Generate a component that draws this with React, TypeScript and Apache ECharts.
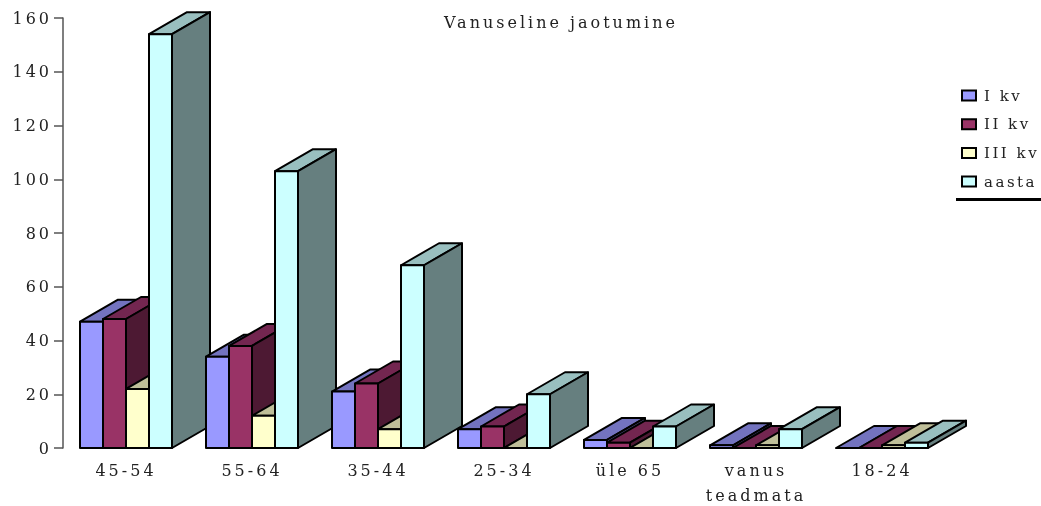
import React, { useEffect, useRef } from "react";
import * as echarts from "echarts";

const categories = ["45-54", "55-64", "35-44", "25-34", "üle 65", "vanus\nteadmata", "18-24"];
const seriesNames = ["I kv", "II kv", "III kv", "aasta"];
const q1 = [47, 34, 21, 7, 3, 1, 0];
const q2 = [48, 38, 24, 8, 2, 0, 0];
const q3 = [22, 12, 7, 0, 0, 1, 1];
const year = [154, 103, 68, 20, 8, 7, 2];
const seriesValues = [q1, q2, q3, year];
const fronts = ["#9999FF", "#993366", "#FFFFCC", "#CCFFFF"];
const tops = ["#7373BF", "#732650", "#BFBF99", "#99BFBF"];
const sides = ["#5C5C99", "#4D1933", "#999973", "#667F7F"];

const title = "Vanuseline jaotumine";
const DX = 38;
const DY = 22;
const FONT = "DejaVu Serif";

function make3D(q: number) {
  return (params: any, api: any) => {
    const cat = api.value(0);
    const [cx, y] = api.coord([cat, api.value(1)]);
    const [, y0] = api.coord([cat, 0]);
    const band = api.size([1, 0])[0];
    const w = (band * 92) / 126 / 4;
    const x = cx + (q - 2) * w;
    const z2 = cat * 10 + q;
    const stroke = { stroke: "#000", lineWidth: 2, lineJoin: "round" };
    const children: any[] = [
      {
        type: "polygon",
        z2,
        shape: { points: [[x, y], [x + w, y], [x + w + DX, y - DY], [x + DX, y - DY]] },
        style: { fill: tops[q], ...stroke },
      },
    ];
    if (y0 - y > 0.01) {
      children.push(
        {
          type: "polygon",
          z2,
          shape: { points: [[x + w, y], [x + w + DX, y - DY], [x + w + DX, y0 - DY], [x + w, y0]] },
          style: { fill: sides[q], ...stroke },
        },
        {
          type: "rect",
          z2,
          shape: { x, y, width: w, height: y0 - y },
          style: { fill: fronts[q], ...stroke },
        }
      );
    }
    return { type: "group", children };
  };
}

export default function App() {
  const ref = useRef<HTMLDivElement>(null);
  useEffect(() => {
    const chart = echarts.init(ref.current!, null, { renderer: "svg" });
    const textStyle = { fontFamily: FONT, fontSize: 16, color: "#222" };
    chart.setOption({
      animation: false,
      title: {
        text: title,
        left: 444,
        top: 14,
        padding: 0,
        textStyle: { ...textStyle, fontWeight: "normal" },
      },
      legend: {
        orient: "vertical",
        left: 961,
        top: 88,
        padding: 0,
        icon: "rect",
        itemWidth: 14,
        itemHeight: 10,
        itemGap: 13.7,
        data: seriesNames,
        selectedMode: false,
        itemStyle: { borderColor: "#000", borderWidth: 2 },
        textStyle: { ...textStyle, fontSize: 15, padding: [0, 0, 0, 3] },
      },
      grid: { left: 63, top: 18, width: 882, height: 430, outerBoundsMode: "none" },
      xAxis: {
        type: "category",
        data: categories,
        axisLine: { show: false },
        axisTick: { show: false },
        axisLabel: { ...textStyle, interval: 0, margin: 10, lineHeight: 25, verticalAlign: "top" },
      },
      yAxis: {
        type: "value",
        min: 0,
        max: 160,
        interval: 20,
        splitLine: { show: false },
        axisLine: { show: true, lineStyle: { color: "#555", width: 1.5 } },
        axisTick: { show: true, length: 9, lineStyle: { color: "#555", width: 1.5 } },
        axisLabel: { ...textStyle, margin: 11 },
      },
      graphic: [
        {
          type: "rect",
          shape: { x: 956, y: 198, width: 85, height: 3 },
          style: { fill: "#000" },
        },
      ],
      series: seriesValues.map((vals, q) => ({
        type: "custom",
        name: seriesNames[q],
        coordinateSystem: "cartesian2d",
        renderItem: make3D(q),
        clip: false,
        encode: { x: 0, y: 1 },
        itemStyle: { color: fronts[q] },
        data: vals.map((v, i) => [i, v]),
      })),
    });
    return () => chart.dispose();
  }, []);
  return (
    <>
      <style>{`#chart text { letter-spacing: 2.5px; } #chart text[style*="16px"] { letter-spacing: 3px; }`}</style>
      <div
        id="chart"
        ref={ref}
        style={{ position: "fixed", left: 0, top: 0, width: 1041, height: 506 }}
      />
    </>
  );
}
